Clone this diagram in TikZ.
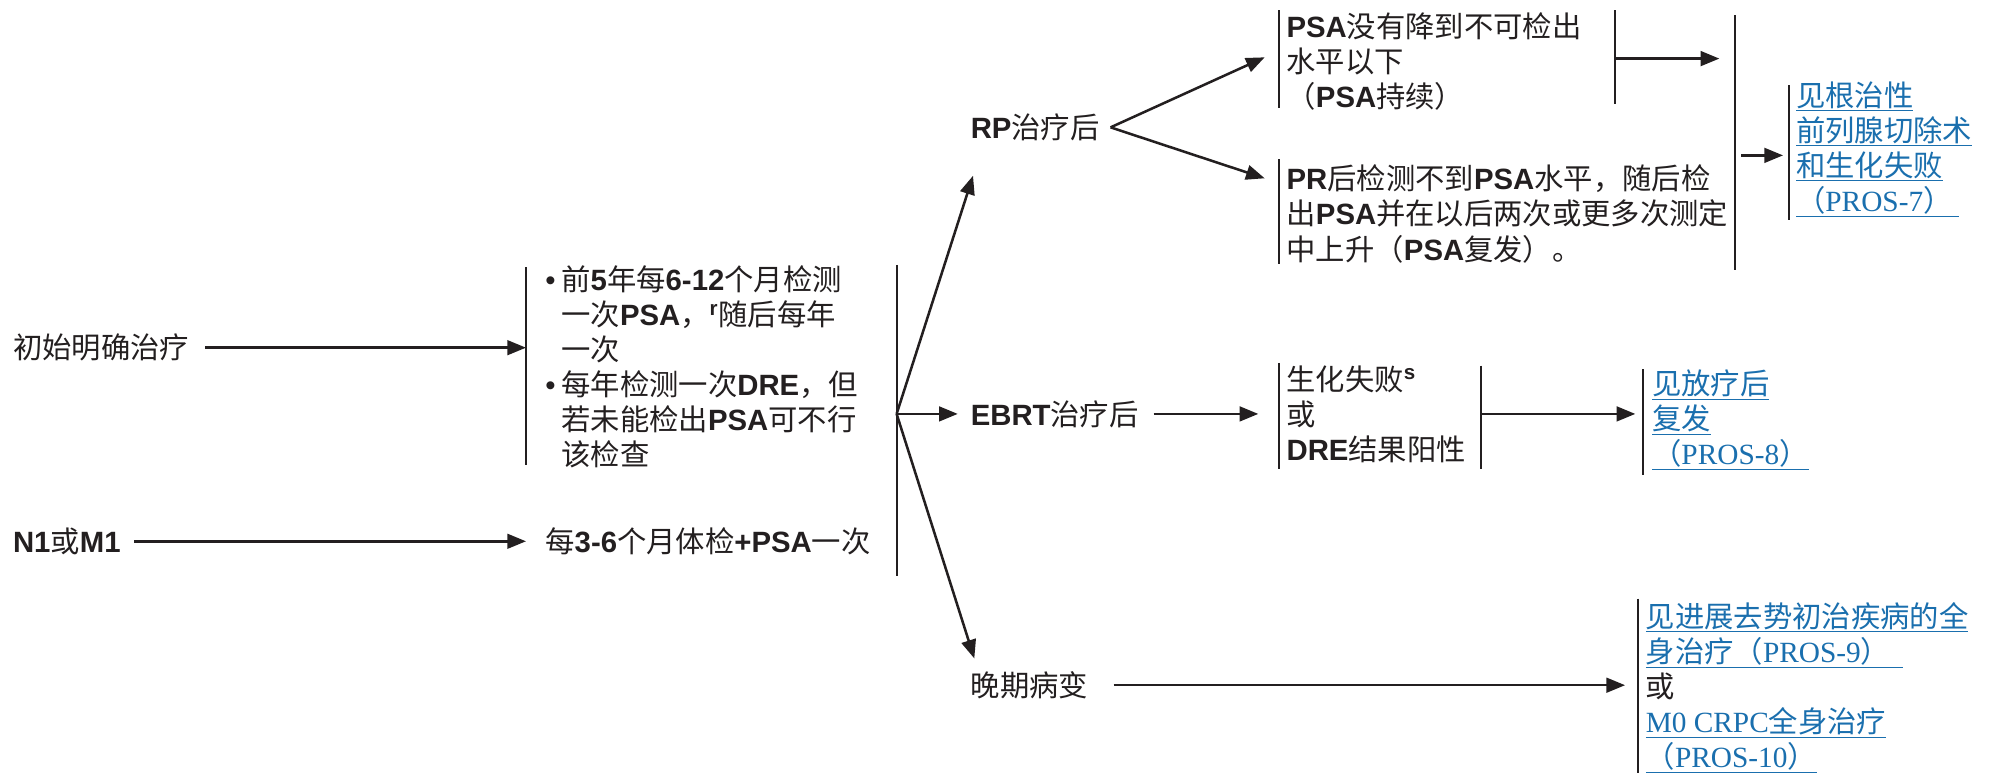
\documentclass[tikz,border=0pt]{standalone}
\usepackage{fontspec}
\setmainfont{Noto Sans CJK SC}
\newfontfamily\lat{Liberation Sans}
\newfontfamily\ser{Liberation Serif}
\usetikzlibrary{arrows.meta}
\definecolor{ink}{HTML}{231F20}
\definecolor{linkblue}{HTML}{1A6FAE}
\newcommand{\B}[1]{{\lat\bfseries #1}}
\newcommand{\Lk}[1]{\underline{#1}}
\newcommand{\bul}{\makebox[12pt][l]{\lat •}}
\newcommand{\ind}{\hspace*{12pt}}
\begin{document}
\begin{tikzpicture}[x=0.9552pt,y=-0.9552pt,
 txt/.style={anchor=west,inner sep=0pt,align=left,font=\fontsize{22}{26.3}\selectfont,text=ink},
 lnk/.style={txt,text=linkblue},
 arr/.style={draw=ink,line width=1.9pt,-{Triangle[length=14pt,width=11pt]}},
 brk/.style={draw=ink,line width=1.5pt}]
\useasboundingbox (0,0) rectangle (1568,607);

% text nodes
\node[txt] (init) at (10,273) {初始明确治疗};
\node[txt] (n1) at (10,425) {\B{N1}或\B{M1}};
\node[txt] (fu1) at (428,288) {\bul{}前\B{5}年每\B{6-12}个月检测\\
\ind{}一次\B{PSA}，\textsuperscript{\B{r}}随后每年\\
\ind{}一次\\
\bul{}每年检测一次\B{DRE}，但\\
\ind{}若未能检出\B{PSA}可不行\\
\ind{}该检查};
\node[txt] (fu2) at (428,425) {每\B{3-6}个月体检\B{+PSA}一次};
\node[txt] (rp) at (762,100) {\B{RP}治疗后};
\node[txt] (ebrt) at (762,325) {\B{EBRT}治疗后};
\node[txt] (late) at (762,538) {晚期病变};
\node[txt] (p1) at (1010,48) {\B{PSA}没有降到不可检出\\水平以下\\（\B{PSA}持续）};
\node[txt] (p2) at (1010,168) {\B{PR}后检测不到\B{PSA}水平，随后检\\出\B{PSA}并在以后两次或更多次测定\\中上升（\B{PSA}复发）。};
\node[txt] (bf) at (1010,325) {生化失败\textsuperscript{\B{s}}\\或\\\B{DRE}结果阳性};
\node[lnk] (l7) at (1410,117) {\Lk{见根治性}\\\Lk{前列腺切除术}\\\Lk{和生化失败}\\\Lk{（{\ser PROS-7}）\ }};
\node[lnk] (l8) at (1297,330) {\Lk{见放疗后}\\\Lk{复发}\\\Lk{（{\ser PROS-8}）}};
\node[lnk] (l9) at (1292,540) {\Lk{见进展去势初治疾病的全}\\\Lk{身治疗（{\ser PROS-9}）\ \ }\\{\color{ink}或}\\\Lk{{\ser M0 CRPC}全身治疗}\\\Lk{（{\ser PROS-10}）}};

% brackets and bars
\draw[brk] (413,210) -- (413,365);
\draw[brk] (704,208) -- (704,452);
\draw[brk] (1004,8) -- (1004,85);
\draw[brk] (1268,8) -- (1268,82);
\draw[brk] (1004,125) -- (1004,207);
\draw[brk] (1362,12) -- (1362,212);
\draw[brk] (1405,67) -- (1405,173);
\draw[brk] (1004,285) -- (1004,368);
\draw[brk] (1163,287) -- (1163,368);
\draw[brk] (1290,290) -- (1290,373);
\draw[brk] (1286,470) -- (1286,607);

% connector end points
\coordinate (fu1in) at (413,273);
\coordinate (fu2in) at (413,425);
\coordinate (hub) at (704,325);
\coordinate (rpin) at (764,138);
\coordinate (ebrtin) at (752,325);
\coordinate (latein) at (765,517);
\coordinate (rpout) at (872,100);
\coordinate (p1in) at (993,45);
\coordinate (p2in) at (993,140);
\coordinate (p1out) at (1268,46);
\coordinate (barin) at (1350,46);
\coordinate (barout) at (1367,122);
\coordinate (l7in) at (1400,122);
\coordinate (bfin) at (988,325);
\coordinate (bfout) at (1163,325);
\coordinate (l8in) at (1284,325);
\coordinate (l9in) at (1276,538);

% connectors
\draw[arr] ([xshift=12pt]init.east) -- (fu1in);
\draw[arr] ([xshift=10pt]n1.east) -- (fu2in);
\draw[arr] (hub) -- (rpin);
\draw[arr] (hub) -- (ebrtin);
\draw[arr] (hub) -- (latein);
\draw[arr] (rpout) -- (p1in);
\draw[arr] (rpout) -- (p2in);
\draw[arr] (p1out) -- (barin);
\draw[arr] (barout) -- (l7in);
\draw[arr] ([xshift=11pt]ebrt.east) -- (bfin);
\draw[arr] (bfout) -- (l8in);
\draw[arr] ([xshift=19pt]late.east) -- (l9in);
\end{tikzpicture}
\end{document}
